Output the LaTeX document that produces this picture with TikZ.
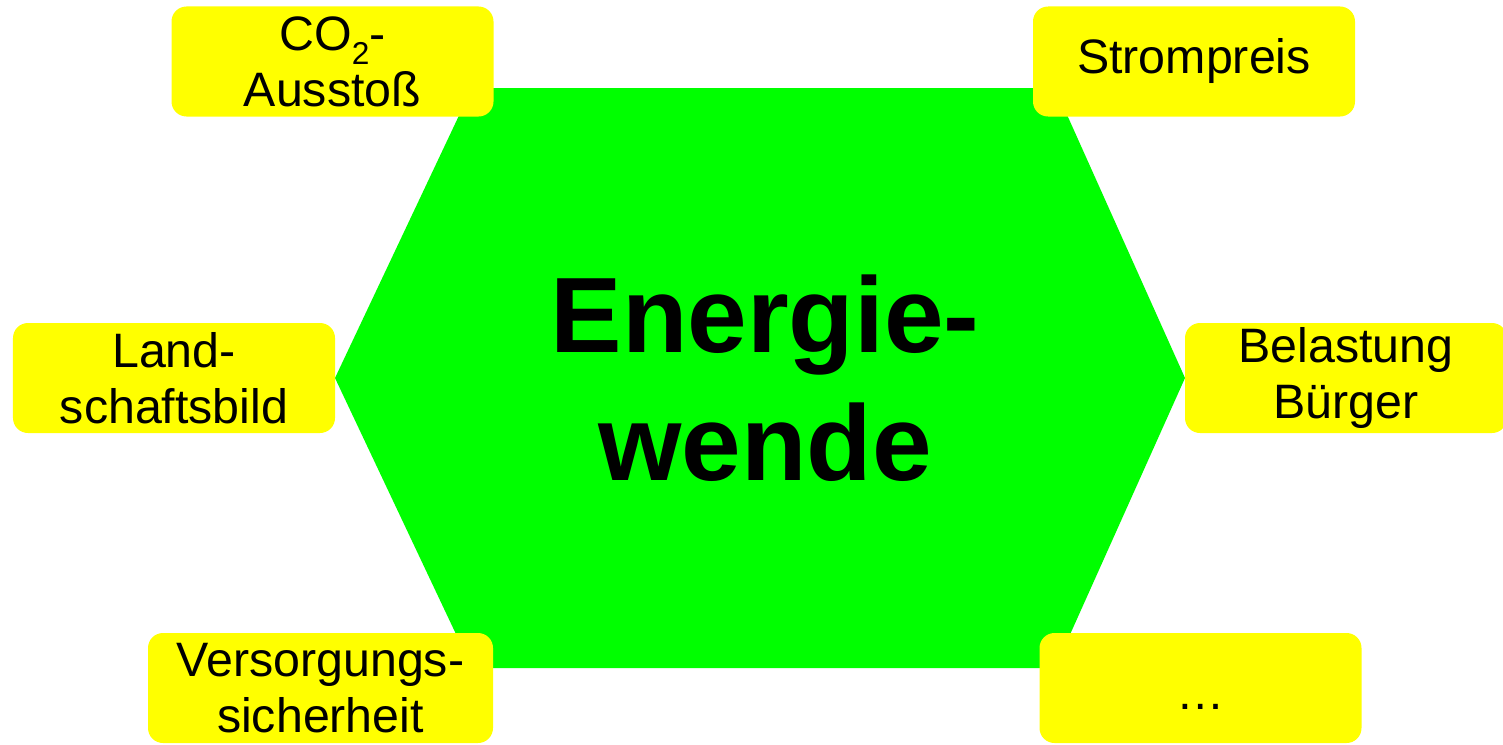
\documentclass[tikz,border=0pt]{standalone}
\usepackage{fontspec}
\setmainfont{Liberation Sans}
\usetikzlibrary{positioning}
\definecolor{sechseck}{RGB}{0,255,0}
\definecolor{feldgelb}{RGB}{255,255,0}

\begin{document}
\begin{tikzpicture}[feld/.style={rectangle,rounded corners=0.3cm,fill=feldgelb,draw=none,inner sep=0pt,minimum width=6.44cm,minimum height=2.2cm,align=center,font=\fontsize{27.5}{32}\selectfont}]
\useasboundingbox (0,0) rectangle (30.06,14.88);
\fill[sechseck] (6.70,7.32) -- (9.44,13.12) -- (21.10,13.12) -- (23.70,7.32) -- (21.10,1.52) -- (9.44,1.52) -- cycle;
\node[font=\fontsize{61}{73}\selectfont\bfseries,align=center] (EW) at (15.3,7.32) {Energie-\\wende};

\node[feld] (CO) at (6.65,13.65) {CO\raisebox{-0.3em}{\fontsize{18}{18}\selectfont 2}-\\Ausstoß};
\node[feld] (SP) at (23.88,13.65) {Strompreis};
\node[feld] (LB) at (3.48,7.32) {Land-\\schaftsbild};
\node[feld] (BB) at (26.92,7.32) {Belastung\\Bürger};
\node[feld,minimum width=6.9cm] (VS) at (6.41,1.12) {Versorgungs-\\sicherheit};
\node[feld] (ET) at (24.01,1.12) {\rule{0pt}{0.85cm}…};

\end{tikzpicture}
\end{document}
